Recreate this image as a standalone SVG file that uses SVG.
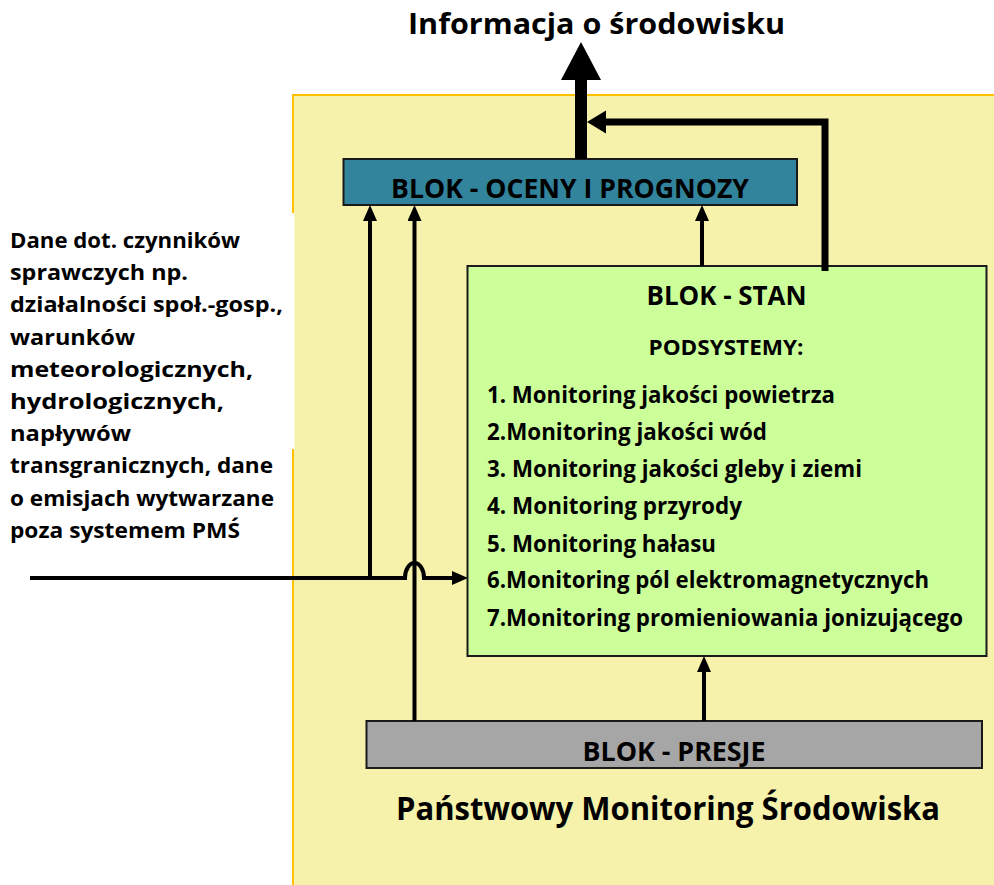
<svg xmlns="http://www.w3.org/2000/svg" width="994" height="885" viewBox="0 0 994 885">
  <style>
    text { font-family: "Open Sans", "Noto Sans", "Liberation Sans", sans-serif; font-weight: 700; fill: #000; }
    .box { stroke: #1a1a1a; stroke-width: 2; }
    .c { text-anchor: middle; }
    .thin { stroke: #000; stroke-width: 4; fill: none; }
    .thick { stroke: #000; stroke-width: 7; fill: none; }
    .left { font-size: 22px; }
    .item { font-size: 22.5px; }
  </style>
  <defs>
    <marker id="ah" viewBox="0 0 16 14" refX="6" refY="7" markerWidth="16" markerHeight="14" markerUnits="userSpaceOnUse" orient="auto">
      <path d="M0,0 L16,7 L0,14 z" fill="#000"/>
    </marker>
  </defs>
  <rect width="994" height="885" fill="#fff"/>

  <g id="node-pms">
    <rect x="293" y="95" width="703" height="792" fill="#F6F2AB" stroke="#FFC000" stroke-width="2"/>
    <rect x="0" y="213" width="294.5" height="236" fill="#fff"/>
    <text class="c" x="668" y="820" font-size="32" textLength="544" lengthAdjust="spacingAndGlyphs">Państwowy Monitoring Środowiska</text>
  </g>

  <g id="node-info">
    <text class="c" x="596.5" y="34" font-size="28" textLength="377" lengthAdjust="spacingAndGlyphs">Informacja o środowisku</text>
  </g>

  <g id="node-dane">
    <text class="left" x="10" y="248" textLength="230" lengthAdjust="spacingAndGlyphs">Dane dot. czynników</text>
    <text class="left" x="10" y="280.2" textLength="178" lengthAdjust="spacingAndGlyphs">sprawczych np.</text>
    <text class="left" x="10" y="312.4" textLength="273" lengthAdjust="spacingAndGlyphs">działalności społ.-gosp.,</text>
    <text class="left" x="10" y="344.6" textLength="125" lengthAdjust="spacingAndGlyphs">warunków</text>
    <text class="left" x="10" y="376.8" textLength="243" lengthAdjust="spacingAndGlyphs">meteorologicznych,</text>
    <text class="left" x="10" y="409" textLength="214" lengthAdjust="spacingAndGlyphs">hydrologicznych,</text>
    <text class="left" x="10" y="441.2" textLength="121" lengthAdjust="spacingAndGlyphs">napływów</text>
    <text class="left" x="10" y="473.4" textLength="263" lengthAdjust="spacingAndGlyphs">transgranicznych, dane</text>
    <text class="left" x="10" y="505.6" textLength="264" lengthAdjust="spacingAndGlyphs">o emisjach wytwarzane</text>
    <text class="left" x="10" y="537.8" textLength="230" lengthAdjust="spacingAndGlyphs">poza systemem PMŚ</text>
  </g>

  <g id="node-oceny">
    <rect class="box" x="343.5" y="159" width="453.5" height="46" fill="#31849B"/>
    <text class="c" x="570" y="198" font-size="26" textLength="358" lengthAdjust="spacingAndGlyphs">BLOK - OCENY I PROGNOZY</text>
  </g>

  <g id="node-stan">
    <rect class="box" x="467.5" y="266" width="519" height="390" fill="#CCFF99"/>
    <text class="c" x="726.5" y="305" font-size="26" textLength="160" lengthAdjust="spacingAndGlyphs">BLOK - STAN</text>
    <text class="c" x="726" y="355" font-size="21" textLength="155" lengthAdjust="spacingAndGlyphs">PODSYSTEMY:</text>
    <text class="item" x="487" y="403" textLength="348" lengthAdjust="spacingAndGlyphs">1. Monitoring jakości powietrza</text>
    <text class="item" x="487" y="440" textLength="280" lengthAdjust="spacingAndGlyphs">2.Monitoring jakości wód</text>
    <text class="item" x="487" y="477" textLength="375" lengthAdjust="spacingAndGlyphs">3. Monitoring jakości gleby i ziemi</text>
    <text class="item" x="487" y="514" textLength="255" lengthAdjust="spacingAndGlyphs">4. Monitoring przyrody</text>
    <text class="item" x="487" y="552" textLength="229" lengthAdjust="spacingAndGlyphs">5. Monitoring hałasu</text>
    <text class="item" x="487" y="588" textLength="442" lengthAdjust="spacingAndGlyphs">6.Monitoring pól elektromagnetycznych</text>
    <text class="item" x="487" y="626" textLength="476" lengthAdjust="spacingAndGlyphs">7.Monitoring promieniowania jonizującego</text>
  </g>

  <g id="node-presje">
    <rect class="box" x="366.5" y="721" width="615.5" height="47" fill="#A6A6A6"/>
    <text class="c" x="674" y="761" font-size="26" textLength="183" lengthAdjust="spacingAndGlyphs">BLOK - PRESJE</text>
  </g>

  <g id="connectors">
    <path class="thin" d="M30,578 H405 A9.5 15 0 0 1 424 578 H458" marker-end="url(#ah)"/>
    <path class="thin" d="M370,578 V215" marker-end="url(#ah)"/>
    <path class="thin" d="M414.5,721 V215" marker-end="url(#ah)"/>
    <path class="thin" d="M702,266 V215" marker-end="url(#ah)"/>
    <path class="thin" d="M704,721 V666" marker-end="url(#ah)"/>
    <rect x="575" y="78" width="12" height="81" fill="#000"/>
    <polygon points="561,80 601,80 581,42" fill="#000"/>
    <path class="thick" d="M825,271 V122 H600"/>
    <polygon points="587,122 606,110.5 606,133.5" fill="#000"/>
  </g>
</svg>
